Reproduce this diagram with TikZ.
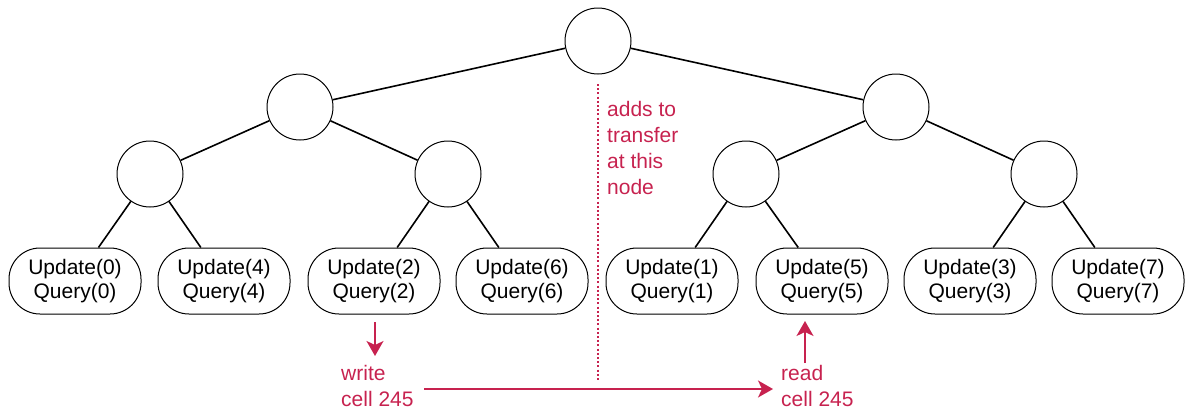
\documentclass[tikz,border=0pt]{standalone}
\usepackage{fontspec}
\setmainfont{Liberation Sans}
\usetikzlibrary{arrows.meta}
\definecolor{accent}{HTML}{C7224F}
\begin{document}
\begin{tikzpicture}[x=1pt,y=-1pt,
  inner/.style={circle,draw=black,line width=1pt,minimum size=66pt,inner sep=0pt,fill=white},
  leaf/.style={draw=black,line width=1pt,rounded corners=31pt,minimum width=132pt,minimum height=66pt,inner sep=0pt,align=center,fill=white,font=\fontsize{21}{24}\selectfont},
  edge/.style={line width=1.6pt},
  note/.style={text=accent,align=left,inner sep=0pt,font=\fontsize{21}{26}\selectfont},
  redarrow/.style={draw=accent,line width=1.6pt,-{Stealth[length=15pt,width=17pt,inset=4pt]}}
]
\useasboundingbox (0,0) rectangle (1186,410);
% internal nodes
\node[inner] (r) at (598,41) {};
\node[inner] (a) at (300,107) {};
\node[inner] (b) at (896,107) {};
\node[inner] (a1) at (150,174) {};
\node[inner] (a2) at (448,174) {};
\node[inner] (b1) at (746,174) {};
\node[inner] (b2) at (1044,174) {};
% leaves
\node[leaf] (l0) at (75,281) {Update(0)\\Query(0)};
\node[leaf] (l4) at (224,281) {Update(4)\\Query(4)};
\node[leaf] (l2) at (374,281) {Update(2)\\Query(2)};
\node[leaf] (l6) at (522,281) {Update(6)\\Query(6)};
\node[leaf] (l1) at (672,281) {Update(1)\\Query(1)};
\node[leaf] (l5) at (822,281) {Update(5)\\Query(5)};
\node[leaf] (l3) at (970,281) {Update(3)\\Query(3)};
\node[leaf] (l7) at (1118,281) {Update(7)\\Query(7)};
% edges
\draw[edge] (r) -- (a);
\draw[edge] (r) -- (b);
\draw[edge] (a) -- (a1);
\draw[edge] (a) -- (a2);
\draw[edge] (b) -- (b1);
\draw[edge] (b) -- (b2);
\draw[edge] (a1) -- (l0);
\draw[edge] (a1) -- (l4);
\draw[edge] (a2) -- (l2);
\draw[edge] (a2) -- (l6);
\draw[edge] (b1) -- (l1);
\draw[edge] (b1) -- (l5);
\draw[edge] (b2) -- (l3);
\draw[edge] (b2) -- (l7);
% annotations
\coordinate (dotend) at (598,381);
\draw[accent,line width=2pt,dash pattern=on 2pt off 2.2pt] (598,84) -- (dotend);
\node[note,anchor=west] (adds) at (607,148) {adds to\\transfer\\at this\\node};
\node[note,anchor=west] (write) at (341,386) {write\\cell 245};
\node[note,anchor=west] (read) at (781,386) {read\\cell 245};
\coordinate (wtop) at (375,322);
\coordinate (wtip) at (375,356);
\draw[redarrow] (wtop) -- (wtip);
\coordinate (rbot) at (805,363);
\coordinate (rtip) at (805,321);
\draw[redarrow] (rbot) -- (rtip);
\coordinate (hstart) at (424,389);
\coordinate (hend) at (773,389);
\draw[redarrow] (hstart) -- (hend);
\end{tikzpicture}
\end{document}
